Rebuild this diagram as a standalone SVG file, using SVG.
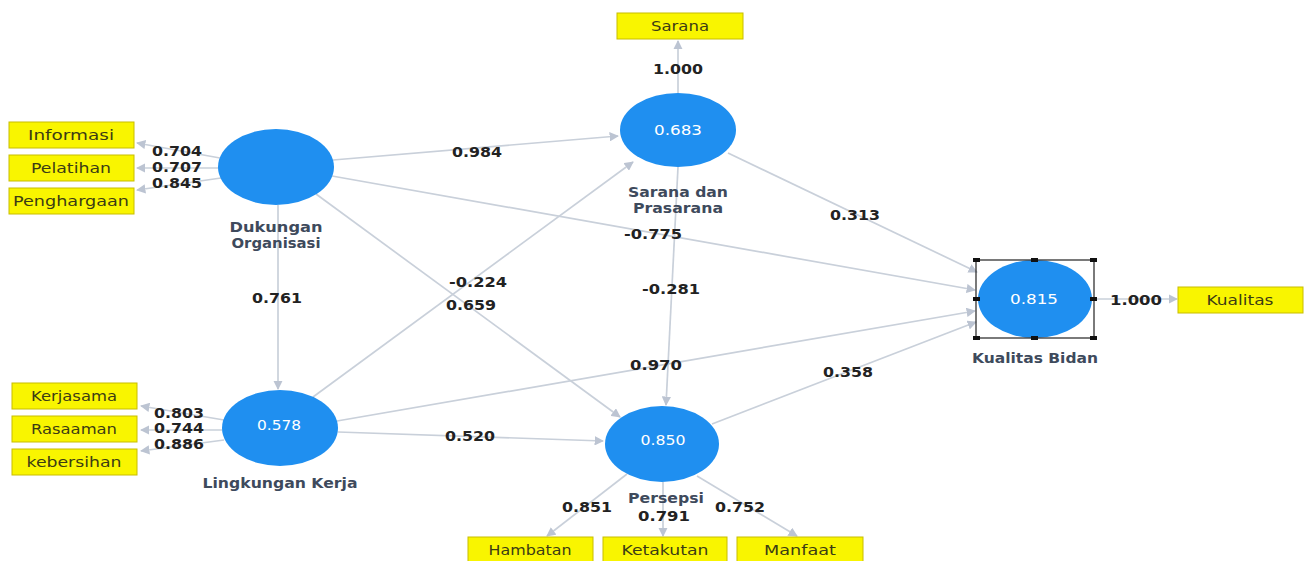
<svg xmlns="http://www.w3.org/2000/svg" width="1305" height="561" viewBox="0 0 1305 561">
<style>
.edge{stroke:#c9d0da;stroke-width:1.7;fill:none;marker-end:url(#arr)}
.box{fill:#f9f500;stroke:#c8bd00;stroke-width:1}
.btxt{font-family:"DejaVu Sans",Verdana,sans-serif;font-size:13.5px;fill:#3c3c14;text-anchor:middle}
.lv{fill:#1f8ff0}
.vtxt{font-family:"DejaVu Sans",Verdana,sans-serif;font-size:14px;fill:#ffffff;text-anchor:middle}
.ntxt{font-family:"DejaVu Sans",Verdana,sans-serif;font-size:14px;font-weight:bold;fill:#3e4a5c;text-anchor:middle}
.etxt{font-family:"DejaVu Sans",Verdana,sans-serif;font-size:14px;font-weight:bold;fill:#222222;text-anchor:middle}
.hdl{fill:#111111}
</style>
<defs>
<marker id="arr" viewBox="0 0 10 10" refX="9" refY="5" markerWidth="5.5" markerHeight="5.5" orient="auto" markerUnits="strokeWidth">
<path d="M0,0 L10,5 L0,10 z" fill="#bcc4d2"/>
</marker>
</defs>
<rect width="1305" height="561" fill="#ffffff"/>
<g id="connectors">
<line class="edge" x1="220" y1="158" x2="137" y2="143"/>
<line class="edge" x1="219" y1="168" x2="137" y2="168"/>
<line class="edge" x1="221" y1="178" x2="137" y2="190"/>
<line class="edge" x1="224" y1="420" x2="141" y2="406"/>
<line class="edge" x1="222" y1="430" x2="141" y2="430"/>
<line class="edge" x1="224" y1="440" x2="141" y2="451"/>
<line class="edge" x1="333" y1="160" x2="618" y2="136"/>
<line class="edge" x1="332" y1="176" x2="975" y2="290"/>
<line class="edge" x1="316" y1="194" x2="620" y2="417"/>
<line class="edge" x1="278" y1="205" x2="278" y2="389"/>
<line class="edge" x1="313" y1="397" x2="633" y2="162"/>
<line class="edge" x1="337" y1="421" x2="975" y2="311"/>
<line class="edge" x1="338" y1="432" x2="603" y2="441"/>
<line class="edge" x1="678" y1="167" x2="666" y2="405"/>
<line class="edge" x1="728" y1="153" x2="977" y2="272"/>
<line class="edge" x1="712" y1="424" x2="976" y2="322"/>
<line class="edge" x1="678" y1="93" x2="678" y2="41"/>
<line class="edge" x1="1094" y1="299" x2="1177" y2="299"/>
<line class="edge" x1="627" y1="474" x2="547" y2="536"/>
<line class="edge" x1="663" y1="482" x2="663" y2="536"/>
<line class="edge" x1="697" y1="476" x2="797" y2="536"/>
<text class="etxt" x="177" y="156" textLength="50" lengthAdjust="spacingAndGlyphs">0.704</text>
<text class="etxt" x="177" y="172" textLength="50" lengthAdjust="spacingAndGlyphs">0.707</text>
<text class="etxt" x="177" y="188" textLength="50" lengthAdjust="spacingAndGlyphs">0.845</text>
<text class="etxt" x="179" y="418" textLength="50" lengthAdjust="spacingAndGlyphs">0.803</text>
<text class="etxt" x="179" y="433" textLength="50" lengthAdjust="spacingAndGlyphs">0.744</text>
<text class="etxt" x="179" y="449" textLength="50" lengthAdjust="spacingAndGlyphs">0.886</text>
<text class="etxt" x="477" y="157" textLength="50" lengthAdjust="spacingAndGlyphs">0.984</text>
<text class="etxt" x="653" y="239" textLength="58" lengthAdjust="spacingAndGlyphs">-0.775</text>
<text class="etxt" x="277" y="303" textLength="50" lengthAdjust="spacingAndGlyphs">0.761</text>
<text class="etxt" x="478" y="287" textLength="58" lengthAdjust="spacingAndGlyphs">-0.224</text>
<text class="etxt" x="471" y="310" textLength="50" lengthAdjust="spacingAndGlyphs">0.659</text>
<text class="etxt" x="671" y="294" textLength="58" lengthAdjust="spacingAndGlyphs">-0.281</text>
<text class="etxt" x="656" y="370" textLength="52" lengthAdjust="spacingAndGlyphs">0.970</text>
<text class="etxt" x="470" y="441" textLength="50" lengthAdjust="spacingAndGlyphs">0.520</text>
<text class="etxt" x="855" y="220" textLength="50" lengthAdjust="spacingAndGlyphs">0.313</text>
<text class="etxt" x="848" y="377" textLength="50" lengthAdjust="spacingAndGlyphs">0.358</text>
<text class="etxt" x="678" y="74" textLength="50" lengthAdjust="spacingAndGlyphs">1.000</text>
<text class="etxt" x="1136" y="305" textLength="52" lengthAdjust="spacingAndGlyphs">1.000</text>
<text class="etxt" x="587" y="512" textLength="50" lengthAdjust="spacingAndGlyphs">0.851</text>
<text class="etxt" x="664" y="521" textLength="52" lengthAdjust="spacingAndGlyphs">0.791</text>
<text class="etxt" x="740" y="512" textLength="50" lengthAdjust="spacingAndGlyphs">0.752</text>
</g>
<g id="informasi"><rect class="box" x="9" y="122" width="125" height="26"/><text class="btxt" x="71" y="140" textLength="86" lengthAdjust="spacingAndGlyphs">Informasi</text></g>
<g id="pelatihan"><rect class="box" x="9" y="155" width="125" height="26"/><text class="btxt" x="71" y="173" textLength="80" lengthAdjust="spacingAndGlyphs">Pelatihan</text></g>
<g id="penghargaan"><rect class="box" x="9" y="188" width="125" height="26"/><text class="btxt" x="71" y="206" textLength="116" lengthAdjust="spacingAndGlyphs">Penghargaan</text></g>
<g id="kerjasama"><rect class="box" x="12" y="383" width="125" height="26"/><text class="btxt" x="74" y="401" textLength="86" lengthAdjust="spacingAndGlyphs">Kerjasama</text></g>
<g id="rasaaman"><rect class="box" x="12" y="416" width="125" height="26"/><text class="btxt" x="74" y="434" textLength="86" lengthAdjust="spacingAndGlyphs">Rasaaman</text></g>
<g id="kebersihan"><rect class="box" x="12" y="449" width="125" height="26"/><text class="btxt" x="74" y="467" textLength="95" lengthAdjust="spacingAndGlyphs">kebersihan</text></g>
<g id="sarana"><rect class="box" x="617" y="13" width="126" height="26"/><text class="btxt" x="680" y="31" textLength="58" lengthAdjust="spacingAndGlyphs">Sarana</text></g>
<g id="kualitas"><rect class="box" x="1178" y="287" width="125" height="26"/><text class="btxt" x="1240" y="305" textLength="67" lengthAdjust="spacingAndGlyphs">Kualitas</text></g>
<g id="hambatan"><rect class="box" x="468" y="537" width="125" height="26"/><text class="btxt" x="530" y="555" textLength="83" lengthAdjust="spacingAndGlyphs">Hambatan</text></g>
<g id="ketakutan"><rect class="box" x="603" y="537" width="124" height="26"/><text class="btxt" x="665" y="555" textLength="87" lengthAdjust="spacingAndGlyphs">Ketakutan</text></g>
<g id="manfaat"><rect class="box" x="737" y="537" width="126" height="26"/><text class="btxt" x="800" y="555" textLength="72" lengthAdjust="spacingAndGlyphs">Manfaat</text></g>
<g id="dukungan-organisasi">
<ellipse class="lv" cx="276" cy="167" rx="58" ry="38"/>
<text class="ntxt" x="276" y="232" textLength="93" lengthAdjust="spacingAndGlyphs">Dukungan</text>
<text class="ntxt" x="276" y="248" textLength="89" lengthAdjust="spacingAndGlyphs">Organisasi</text>
</g>
<g id="sarana-dan-prasarana">
<ellipse class="lv" cx="678" cy="130" rx="58" ry="37"/>
<text class="vtxt" x="678" y="135" textLength="48" lengthAdjust="spacingAndGlyphs">0.683</text>
<text class="ntxt" x="678" y="197" textLength="100" lengthAdjust="spacingAndGlyphs">Sarana dan</text>
<text class="ntxt" x="678" y="213" textLength="90" lengthAdjust="spacingAndGlyphs">Prasarana</text>
</g>
<g id="lingkungan-kerja">
<ellipse class="lv" cx="280" cy="428" rx="58" ry="38"/>
<text class="vtxt" x="279" y="430" textLength="44" lengthAdjust="spacingAndGlyphs">0.578</text>
<text class="ntxt" x="280" y="488" textLength="155" lengthAdjust="spacingAndGlyphs">Lingkungan Kerja</text>
</g>
<g id="persepsi">
<ellipse class="lv" cx="662" cy="444" rx="57" ry="38"/>
<text class="vtxt" x="663" y="445" textLength="45" lengthAdjust="spacingAndGlyphs">0.850</text>
<text class="ntxt" x="666" y="503" textLength="76" lengthAdjust="spacingAndGlyphs">Persepsi</text>
</g>
<g id="kualitas-bidan">
<ellipse class="lv" cx="1035" cy="299" rx="57" ry="39"/>
<text class="vtxt" x="1034" y="304" textLength="48" lengthAdjust="spacingAndGlyphs">0.815</text>
<text class="ntxt" x="1035" y="363" textLength="126" lengthAdjust="spacingAndGlyphs">Kualitas Bidan</text>
<rect x="976" y="260" width="118" height="78" fill="none" stroke="#222222" stroke-width="1.2"/>
<rect class="hdl" x="973" y="258" width="7" height="4"/>
<rect class="hdl" x="1031" y="258" width="7" height="4"/>
<rect class="hdl" x="1090" y="258" width="7" height="4"/>
<rect class="hdl" x="973" y="297" width="7" height="4"/>
<rect class="hdl" x="1090" y="297" width="7" height="4"/>
<rect class="hdl" x="973" y="336" width="7" height="4"/>
<rect class="hdl" x="1031" y="336" width="7" height="4"/>
<rect class="hdl" x="1090" y="336" width="7" height="4"/>
</g>
</svg>
